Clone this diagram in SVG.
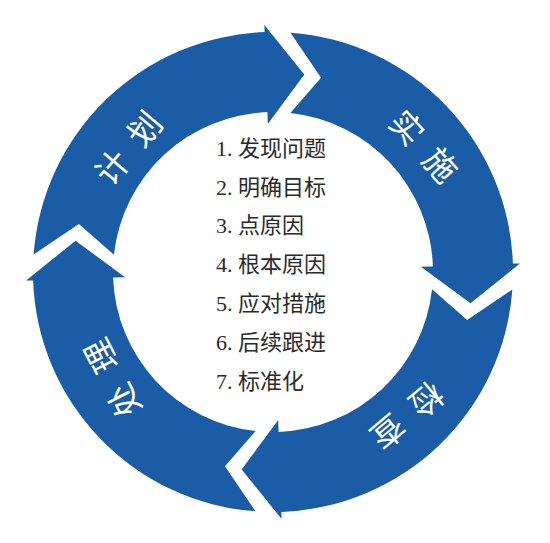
<svg xmlns="http://www.w3.org/2000/svg" width="550" height="543" viewBox="0 0 550 543">
<style>
.seg{fill:#1b5ca6}
.lbl{font-family:"Noto Sans CJK SC",sans-serif;font-size:33px;fill:#ffffff;letter-spacing:17px;text-anchor:middle;dominant-baseline:central}
.item{font-family:"Liberation Serif","Noto Sans CJK SC",serif;font-size:22px;fill:#2a2a2a}
</style>
<defs>
<path id="seg" d="M33.64,254.51 A240,240 0 0 1 264.6,32.1 L264.4,25.1 L304.3,74.5 L267.8,124.1 L267.4,112.1 A160,160 0 0 0 113.94,254.67 L78.86,223.95 Z"/>
</defs>
<rect width="550" height="543" fill="#ffffff"/>
<g id="connectors">
<use href="#seg" class="seg"/>
<use href="#seg" class="seg" transform="rotate(90 273 272)"/>
<use href="#seg" class="seg" transform="rotate(180 273 272)"/>
<use href="#seg" class="seg" transform="rotate(270 273 272)"/>
</g>
<g id="plan"><text class="lbl" x="8.5" y="0" transform="translate(127 147) rotate(-50)">计划</text></g>
<g id="do"><text class="lbl" x="8.5" y="0" transform="translate(425 145) rotate(48)">实施</text></g>
<g id="check"><text class="lbl" x="8.5" y="0" transform="translate(408 417) rotate(140)">检查</text></g>
<g id="act"><text class="lbl" x="8.5" y="0" transform="translate(111 379) rotate(243)">处理</text></g>
<g id="steps">
<text class="item" x="216" y="156">1. 发现问题</text>
<text class="item" x="216" y="195">2. 明确目标</text>
<text class="item" x="216" y="233">3. 点原因</text>
<text class="item" x="216" y="272">4. 根本原因</text>
<text class="item" x="216" y="311">5. 应对措施</text>
<text class="item" x="216" y="350">6. 后续跟进</text>
<text class="item" x="216" y="389">7. 标准化</text>
</g>
</svg>
